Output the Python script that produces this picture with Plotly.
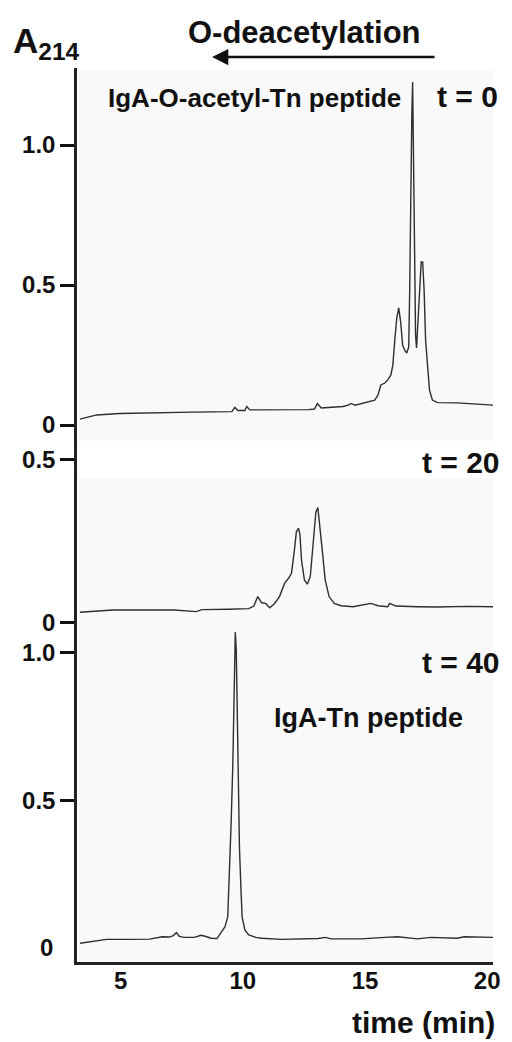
import plotly.graph_objects as go

# ---------------- data (time in min, absorbance A214) ----------------
t0_time = [3.33, 4.02, 4.96, 5.77, 6.99, 7.93, 8.82, 9.55, 9.67, 9.80, 10.08, 10.16, 10.28,
           11.06, 11.87, 12.68, 12.93, 13.05, 13.21, 13.70, 14.10, 14.31, 14.43, 14.59, 14.80,
           15.00, 15.20, 15.40, 15.53, 15.65, 15.81, 15.93, 16.06, 16.14, 16.22, 16.30, 16.38,
           16.46, 16.54, 16.62, 16.71, 16.79, 16.83, 16.87, 16.92, 16.95, 16.99, 17.03, 17.07,
           17.11, 17.17, 17.23, 17.30, 17.36, 17.42, 17.48, 17.56, 17.64, 17.76, 17.97, 18.78,
           19.59, 20.24]
t0_abs = [0.021, 0.036, 0.041, 0.043, 0.045, 0.046, 0.047, 0.048, 0.063, 0.052, 0.052, 0.066, 0.054,
          0.054, 0.054, 0.055, 0.057, 0.077, 0.061, 0.063, 0.066, 0.071, 0.077, 0.071, 0.075,
          0.079, 0.084, 0.089, 0.107, 0.143, 0.150, 0.161, 0.179, 0.214, 0.304, 0.382, 0.418,
          0.368, 0.286, 0.268, 0.257, 0.279, 0.482, 0.875, 1.125, 1.225, 0.982, 0.554, 0.321,
          0.275, 0.375, 0.500, 0.582, 0.582, 0.482, 0.304, 0.204, 0.125, 0.089, 0.080, 0.079,
          0.075, 0.071]

t20_time = [3.33, 3.94, 4.67, 6.18, 7.19, 8.09, 8.33, 9.43, 10.24, 10.45, 10.61, 10.77, 10.93,
            11.10, 11.30, 11.50, 11.71, 11.87, 11.99, 12.11, 12.19, 12.28, 12.34, 12.40, 12.52,
            12.64, 12.76, 12.89, 12.99, 13.07, 13.13, 13.25, 13.37, 13.53, 13.74, 14.02, 14.51,
            15.00, 15.24, 15.53, 15.93, 16.01, 16.26, 17.15, 17.97, 19.19, 20.24]
t20_abs = [0.032, 0.036, 0.039, 0.039, 0.039, 0.034, 0.040, 0.041, 0.043, 0.051, 0.080, 0.061, 0.059,
           0.046, 0.059, 0.080, 0.121, 0.136, 0.151, 0.222, 0.278, 0.289, 0.268, 0.192, 0.131,
           0.118, 0.141, 0.253, 0.339, 0.352, 0.314, 0.222, 0.131, 0.080, 0.059, 0.052, 0.049,
           0.056, 0.059, 0.052, 0.049, 0.059, 0.051, 0.049, 0.048, 0.050, 0.049]

t40_time = [3.33, 3.94, 4.43, 5.36, 6.18, 6.71, 6.99, 7.15, 7.28, 7.40, 7.60, 8.01, 8.29, 8.49,
            8.70, 8.94, 9.10, 9.27, 9.38, 9.46, 9.52, 9.59, 9.63, 9.69, 9.73, 9.81, 9.86, 9.92,
            9.97, 10.08, 10.24, 10.53, 10.77, 11.58, 12.27, 13.09, 13.37, 13.62, 14.84, 15.53,
            15.81, 16.34, 17.15, 17.68, 18.78, 19.06, 20.24]
t40_abs = [0.016, 0.022, 0.029, 0.029, 0.030, 0.038, 0.037, 0.042, 0.052, 0.039, 0.036, 0.036, 0.043, 0.039,
           0.033, 0.032, 0.050, 0.072, 0.105, 0.264, 0.423, 0.626, 0.863, 1.069, 1.008, 0.592, 0.342, 0.203,
           0.105, 0.061, 0.044, 0.036, 0.033, 0.029, 0.031, 0.032, 0.036, 0.031, 0.031, 0.033,
           0.036, 0.038, 0.031, 0.036, 0.033, 0.038, 0.036]

x_tick_vals = [5, 10, 15, 20]
x_tick_text = ["5", "10", "15", "20"]
top_tick_vals = [0, 0.5, 1.0]
top_tick_text = ["0", "0.5", "1.0"]
mid_tick_vals = [0, 0.5]
mid_tick_text = ["0", "0.5"]
bot_tick_vals = [0.5, 1.0]
bot_tick_text = ["0.5", "1.0"]

# ---------------- figure ----------------
FONT = "Liberation Sans, Arial, Helvetica, sans-serif"
LINE = "#2e2e2e"
BG = "#f9f9f9"

fig = go.Figure()
fig.add_trace(go.Scatter(x=t0_time, y=t0_abs, mode="lines", line=dict(color=LINE, width=1.4),
                         xaxis="x", yaxis="y", showlegend=False, hoverinfo="skip"))
fig.add_trace(go.Scatter(x=t20_time, y=t20_abs, mode="lines", line=dict(color=LINE, width=1.4),
                         xaxis="x", yaxis="y2", showlegend=False, hoverinfo="skip"))
fig.add_trace(go.Scatter(x=t40_time, y=t40_abs, mode="lines", line=dict(color=LINE, width=1.4),
                         xaxis="x", yaxis="y3", showlegend=False, hoverinfo="skip"))

tickfont = dict(family=FONT, size=24, color="#111111", weight="bold")
yax_common = dict(showgrid=False, zeroline=False, showline=True, linecolor="#222222", linewidth=2.5,
                  ticks="outside", ticklen=14, tickwidth=2.5, tickcolor="#111111",
                  tickfont=tickfont, anchor="x", fixedrange=True)

fig.update_layout(
    width=512, height=1042,
    margin=dict(l=77, r=16, t=68, b=80),
    paper_bgcolor="white", plot_bgcolor="white",
    xaxis=dict(range=[3.21, 20.24], showgrid=False, zeroline=False, showline=True,
               linecolor="#222222", linewidth=2.5, ticks="", tickvals=x_tick_vals,
               ticktext=x_tick_text, tickfont=tickfont, anchor="y3", fixedrange=True,
               ticklabelstandoff=-5),
    yaxis=dict(domain=[0.5828, 1.0], range=[-0.057, 1.275], tickvals=top_tick_vals,
               ticktext=top_tick_text, **yax_common),
    yaxis2=dict(domain=[0.3736, 0.5828], range=[-0.0162, 0.556], tickvals=mid_tick_vals,
                ticktext=mid_tick_text, **yax_common),
    yaxis3=dict(domain=[0.0, 0.3736], range=[-0.0474, 1.083], tickvals=bot_tick_vals,
                ticktext=bot_tick_text, **yax_common),
)

# light grey panel backgrounds
fig.add_shape(type="rect", xref="paper", yref="paper", x0=0.005, x1=1.0, y0=0.5828, y1=0.9978,
              fillcolor=BG, line=dict(width=0), layer="below")
fig.add_shape(type="rect", xref="paper", yref="paper", x0=0.005, x1=1.0, y0=0.0, y1=0.5414,
              fillcolor=BG, line=dict(width=0), layer="below")

def ann(text, x, y, size, xanchor="center", yanchor="middle", **kw):
    fig.add_annotation(text=text, x=x, y=y, xref=kw.pop("xref", "paper"), yref=kw.pop("yref", "paper"),
                       showarrow=False, xanchor=xanchor, yanchor=yanchor,
                       font=dict(family=FONT, size=size, color="#111111", weight="bold"), **kw)

ann("O-deacetylation", 0.5477, 1.040, 31)
fig.add_annotation(text="", x=0.3246, y=1.0123, xref="paper", yref="paper",
                   ax=224, ay=0, axref="pixel", ayref="pixel", showarrow=True,
                   arrowhead=2, arrowsize=1.3, arrowwidth=2.5, arrowcolor="#111111")
ann("A<sub>214</sub>", -0.158, 1.028, 35, xanchor="left")
ann("IgA-O-acetyl-Tn peptide", 0.0692, 0.9664, 26, xanchor="left")
ann("t = 0", 1.0167, 0.9676, 30, xanchor="right")
ann("t = 20", 1.0215, 0.5582, 30, xanchor="right")
ann("t = 40", 1.0215, 0.3345, 30, xanchor="right")
ann("IgA-Tn peptide", 0.7017, 0.2729, 27)
ann("time (min)", 1.0095, -0.068, 30, xanchor="right")
ann("0", -0.052, 0, 24, xanchor="right", yref="y3")

fig.write_html("out.html", config={"displayModeBar": False},
               post_script="document.body.style.margin='0';document.body.style.overflow='hidden';")
